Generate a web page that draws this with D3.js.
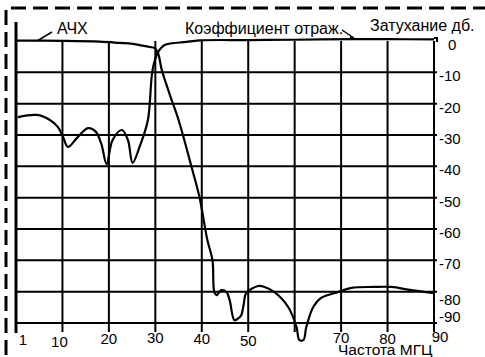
<!DOCTYPE html>
<html>
<head>
<meta charset="utf-8">
<script src="https://cdn.jsdelivr.net/npm/d3@7/dist/d3.min.js"></script>
<style>
  html, body { margin: 0; padding: 0; background: #fff; }
  svg { display: block; }
  text { font-family: "Liberation Sans", Arial, sans-serif; fill: #000; }
</style>
</head>
<body>
<svg id="chart" width="485" height="357"></svg>
<script>
// ---- data ----
const freqTicks = [0, 10, 20, 30, 40, 50, 60, 70, 80, 90];
const freqTickLabels = ["1", "10", "20", "30", "40", "50", "", "70", "80", "90"];
const dbTicks = [0, -10, -20, -30, -40, -50, -60, -70, -80, -90];
const dbTickLabels = ["0", "-10", "-20", "-30", "-40", "-50", "-60", "-70", "-80", "-90"];

// АЧХ (frequency response), [MHz, dB]
const achFreq = [0, 10, 18, 22.3, 25.1, 26.6, 28.8, 29.9, 30.6, 31.4, 33.2, 35, 37.8, 39.5, 41.2, 42.3, 42.7, 43.2, 44.2, 45.3, 46.0, 47.0, 47.7, 48.5, 49.0, 49.6, 52.2, 53.5, 55.6, 58.6, 60.4, 61.0, 61.9, 62.5, 64.0, 65.7, 69.4, 72.2, 77.1, 80.8, 85.1, 90];
const achDb   = [0.15, 0.05, -0.2, -0.6, -0.9, -1.3, -1.9, -2.3, -4.0, -9.3, -17.5, -25.2, -40.2, -49.8, -63.5, -69.9, -80.1, -81.1, -79.5, -80.1, -82.7, -89.1, -88.7, -87.5, -84.3, -80.4, -78.2, -78.5, -80.1, -84.9, -91.3, -95.4, -95.4, -91.3, -84.9, -82.0, -80.1, -78.8, -78.5, -78.5, -79.5, -80.5];

// Коэффициент отражения, [MHz, dB]
const reflFreq = [0.4, 4.5, 7.3, 9.0, 10.1, 11.2, 13.1, 15.5, 17.2, 18.4, 19.5, 20.8, 22.8, 24.1, 25.1, 26.6, 28.4, 29.4, 30.5, 32.0, 36.7, 39.5, 50, 60, 72.6, 80, 90];
const reflDb   = [-24.3, -23.6, -25.2, -27.4, -30.5, -33.8, -31.0, -27.8, -29.0, -33.0, -39.3, -31.6, -28.4, -31.6, -38.9, -33.8, -25.2, -9.3, -3.8, -1.3, -0.3, 0.2, 0.3, 0.4, 0.6, 0.6, 0.5];

// ---- drawing ----
const svg = d3.select("#chart");
const x = d3.scaleLinear().domain([0, 90]).range([16, 434]);
const y = d3.scaleLinear().domain([0, -90]).range([41, 323]);

// dashed frame (top + left)
svg.append("path")
  .attr("d", "M6,355 L6,8 L485,8")
  .attr("fill", "none").attr("stroke", "#000")
  .attr("stroke-width", 3).attr("stroke-dasharray", "15,7");

// horizontal gridlines (excluding 0)
svg.append("g").selectAll("line").data(dbTicks.filter(d => d !== 0)).join("line")
  .attr("x1", x(0)).attr("x2", x(90) + 3)
  .attr("y1", d => y(d)).attr("y2", d => y(d))
  .attr("stroke", "#000").attr("stroke-width", 2);

// vertical gridlines with ticks below
svg.append("g").selectAll("line").data(freqTicks.slice(1)).join("line")
  .attr("x1", d => x(d)).attr("x2", d => x(d))
  .attr("y1", y(0)).attr("y2", y(-90) + 9)
  .attr("stroke", "#000").attr("stroke-width", 2);

// left axis (thick)
svg.append("line")
  .attr("x1", x(0)).attr("x2", x(0)).attr("y1", 22).attr("y2", 333)
  .attr("stroke", "#000").attr("stroke-width", 3);

// right axis top stub
svg.append("path")
  .attr("d", `M${x(90)},${y(0) - 3} L${x(90) + 3},${y(0) - 3} L${x(90) + 3},${y(0) + 1}`)
  .attr("fill", "none").attr("stroke", "#000").attr("stroke-width", 2);

// x tick labels
svg.append("g").selectAll("text").data(freqTicks).join("text")
  .attr("x", (d, i) => x(d) + (i === 0 ? 7 : i === 9 ? 6 : (i === 1 ? -3 : 0)))
  .attr("y", (d, i) => [345, 347, 344, 343, 344, 346, 344, 343, 344, 342][i])
  .attr("text-anchor", "middle")
  .attr("font-size", 15)
  .text((d, i) => freqTickLabels[i]);

// y tick labels (right side)
svg.append("g").selectAll("text").data(dbTicks).join("text")
  .attr("x", (d, i) => i === 0 ? 448 : 439)
  .attr("y", (d, i) => y(d) + (i === 9 ? -5 : i === 8 ? 9 : 5))
  .attr("dominant-baseline", "middle")
  .attr("font-size", 15)
  .text((d, i) => dbTickLabels[i]);

const line = d3.line()
  .x(d => x(d[0])).y(d => y(d[1]))
  .curve(d3.curveCatmullRom.alpha(0.5));

svg.append("path")
  .datum(achFreq.map((f, i) => [f, achDb[i]]))
  .attr("d", line)
  .attr("fill", "none").attr("stroke", "#000").attr("stroke-width", 2.2);

svg.append("path")
  .datum(reflFreq.map((f, i) => [f, reflDb[i]]))
  .attr("d", line)
  .attr("fill", "none").attr("stroke", "#000").attr("stroke-width", 2.2);

// annotations
svg.append("line").attr("x1", 37).attr("y1", 41).attr("x2", 52).attr("y2", 32)
  .attr("stroke", "#000").attr("stroke-width", 1.5);
svg.append("text").attr("x", 57).attr("y", 34).attr("font-size", 16).text("АЧХ");

svg.append("path").attr("d", "M342,30 L354,38 L350,37")
  .attr("fill", "none").attr("stroke", "#000").attr("stroke-width", 1.5);
svg.append("text").attr("x", 185).attr("y", 34).attr("font-size", 16).text("Коэффициент отраж.");

svg.append("text").attr("x", 370).attr("y", 31).attr("font-size", 16).text("Затухание дб.");

svg.append("text").attr("x", 338).attr("y", 355).attr("font-size", 15.5).text("Частота МГЦ");
</script>
</body>
</html>
